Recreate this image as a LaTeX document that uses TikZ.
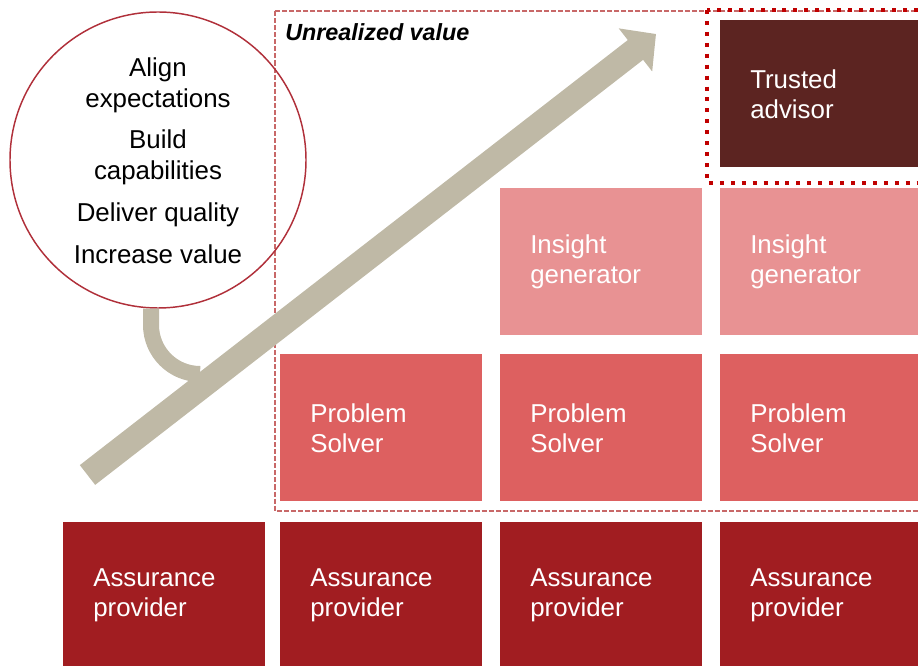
\documentclass[tikz,border=0pt]{standalone}
\usepackage{fontspec}
\setmainfont{Liberation Sans}
\usetikzlibrary{arrows.meta}
\definecolor{assurred}{RGB}{161,29,33}
\definecolor{solvered}{RGB}{221,96,96}
\definecolor{insightpink}{RGB}{232,146,147}
\definecolor{advisorbrown}{RGB}{92,36,33}
\definecolor{arrowbeige}{RGB}{191,185,166}
\definecolor{circlered}{RGB}{176,48,58}
\definecolor{dashred}{RGB}{200,104,104}
\definecolor{dotred}{RGB}{192,0,0}
\begin{document}
\begin{tikzpicture}[x=0.75pt,y=-0.75pt,line join=round,
    cell/.style={anchor=north west,minimum width=151.5pt,minimum height=110.25pt,
      text width=106.5pt,inner xsep=22.5pt,inner ysep=0pt,align=left,
      text=white,font=\fontsize{19.4}{22.5}\selectfont},
    item/.style={align=center,inner sep=0pt,font=\fontsize{19.4}{23.2}\selectfont},
    unrealframe/.style={draw=dashred,line width=2pt,dash pattern=on 3.8pt off 1.5pt},
    advframe/.style={draw=dotred,line width=3pt,dash pattern=on 3pt off 5.2pt},
    hookline/.style={draw=arrowbeige,line width=12pt},
    bigarrow/.style={draw=arrowbeige,line width=18.75pt,
      -{Triangle[length=19.5pt,width=39.75pt]}}]
    \useasboundingbox (0,0) rectangle (918,666);
    \clip (0,0) rectangle (918,666);

    % frames
    \draw[unrealframe] (275,11) rectangle (940,511);
    \node[anchor=base west,inner sep=0pt,font=\bfseries\itshape\fontsize{17.5}{20}\selectfont]
      (unreal) at (285,41) {Unrealized value};

    % the grid of roles
    \foreach \col/\x in {1/63,2/280,3/500,4/720}
      \node[cell,fill=assurred] (assur\col) at (\x,522) {Assurance\\provider};
    \foreach \col/\x in {2/280,3/500,4/720}
      \node[cell,fill=solvered] (solver\col) at (\x,354) {Problem\\Solver};
    \foreach \col/\x in {3/500,4/720}
      \node[cell,fill=insightpink] (insight\col) at (\x,188) {Insight\\generator};
    \node[cell,fill=advisorbrown] (advisor) at (720,20) {Trusted\\advisor};

    \draw[advframe] (707,10) rectangle (940,183);

    % circle and arrow
    \node[draw=circlered,line width=1.1pt,circle,minimum size=222pt,inner sep=0pt] (goals) at (158,160) {};
    \coordinate (tail) at (87.5,475);
    \coordinate (tip) at (656,34);
    \draw[hookline] ([xshift=-5.25pt]goals.south) -- (151,325)
      .. controls (151,352) and (173,374) .. (200,374);
    \draw[bigarrow] (tail) -- (tip);

    \node[item] (align) at (158,85) {Align\\expectations};
    \node[item] (build) at (158,157) {Build\\capabilities};
    \node[item] (deliver) at (158,215) {Deliver quality};
    \node[item] (increase) at (158,254) {Increase value};
  \end{tikzpicture}
\end{document}
